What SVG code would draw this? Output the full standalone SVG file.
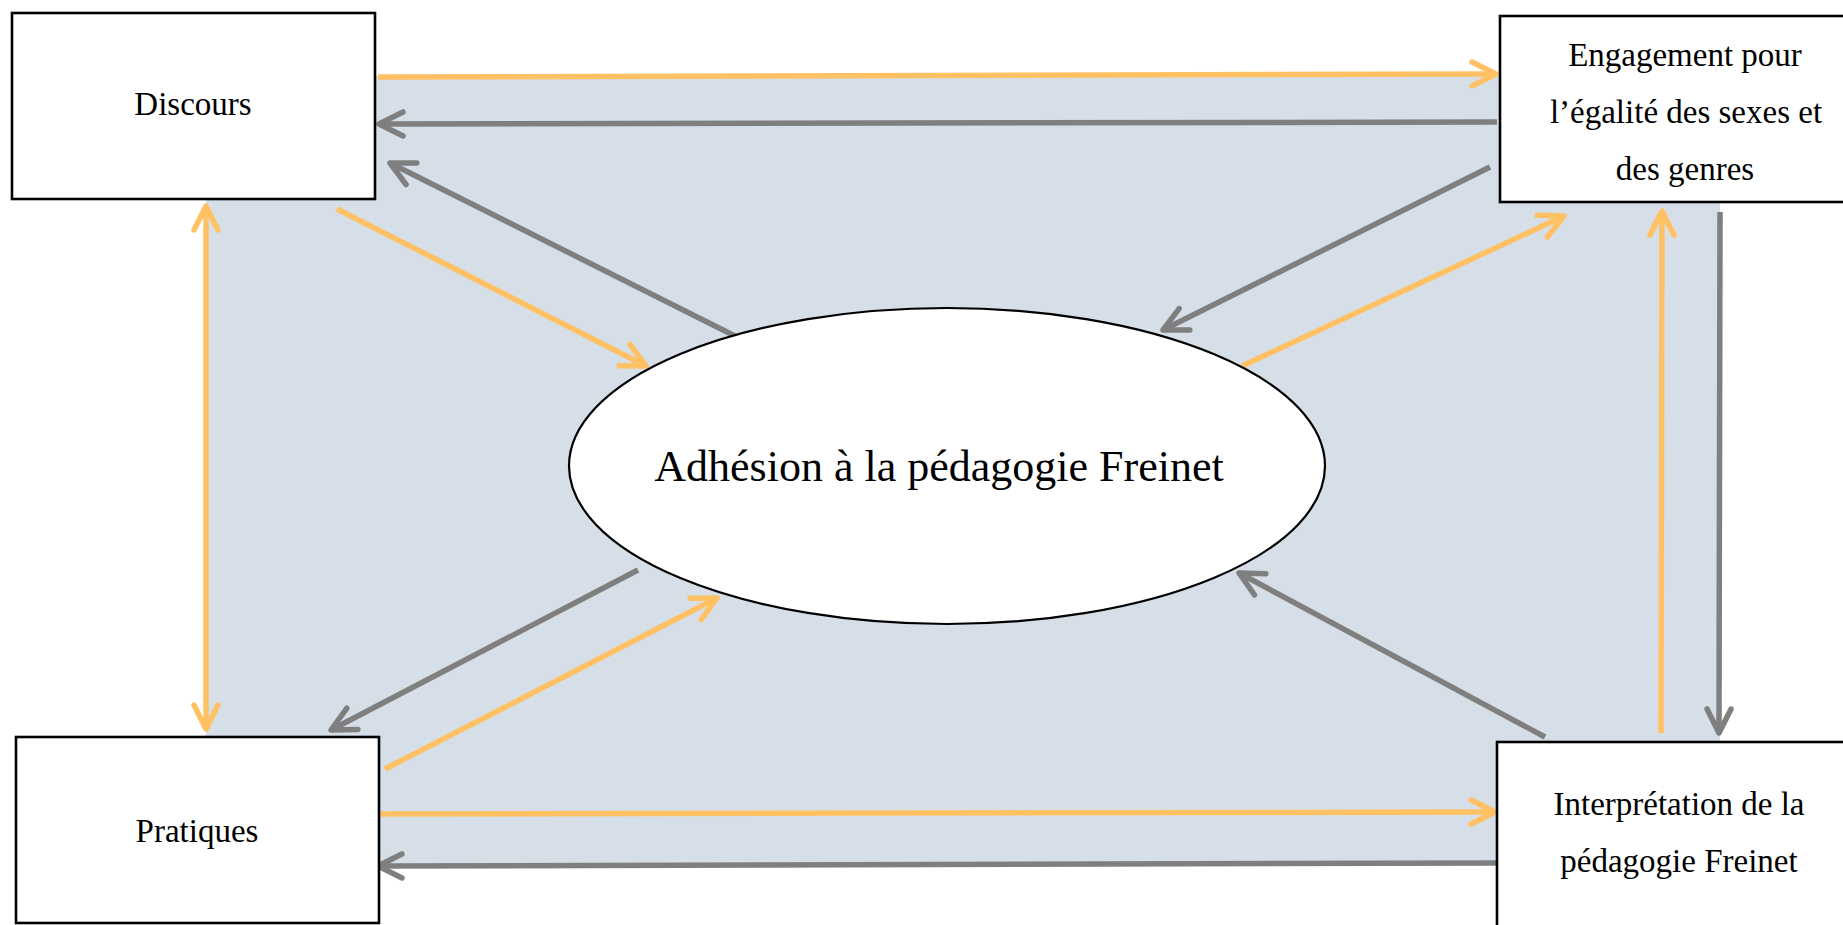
<svg xmlns="http://www.w3.org/2000/svg" width="1843" height="925" viewBox="0 0 1843 925">
<style>
.box{fill:#ffffff;stroke:#000000;stroke-width:2.6}
.lbl{font-family:"Liberation Serif","Times New Roman",serif;font-size:33px;fill:#000000;text-anchor:middle}
.big{font-size:44px}
.o{stroke:#FFC163;stroke-width:5.5;fill:none;stroke-linecap:butt}
.g{stroke:#7F7F7F;stroke-width:5.5;fill:none;stroke-linecap:butt}
.o.a{marker-end:url(#ao)}
.g.a{marker-end:url(#ag)}
</style>
<defs>
<marker id="ao" markerUnits="userSpaceOnUse" markerWidth="40" markerHeight="40" viewBox="-30 -20 34 40" refX="0" refY="0" orient="auto-start-reverse" overflow="visible">
<path d="M-24,-12 L0,0 L-24,12" fill="none" stroke="#FFC163" stroke-width="5.5" stroke-linecap="round" stroke-linejoin="round"/>
</marker>
<marker id="ag" markerUnits="userSpaceOnUse" markerWidth="40" markerHeight="40" viewBox="-30 -20 34 40" refX="0" refY="0" orient="auto-start-reverse" overflow="visible">
<path d="M-24,-12 L0,0 L-24,12" fill="none" stroke="#7F7F7F" stroke-width="5.5" stroke-linecap="round" stroke-linejoin="round"/>
</marker>
</defs>
<rect width="1843" height="925" fill="#ffffff"/>
<rect id="background" x="206" y="76" width="1514" height="789" fill="#D6DEE8"/>
<g id="connectors">
<line class="o a" x1="378" y1="77" x2="1496" y2="74"/>
<line class="g a" x1="1497" y1="122" x2="379" y2="124"/>
<line class="g a" x1="737" y1="337" x2="390" y2="163"/>
<line class="o a" x1="337" y1="209" x2="646" y2="366"/>
<line class="o" x1="206" y1="206" x2="206" y2="729" marker-start="url(#ao)" marker-end="url(#ao)"/>
<line class="g a" x1="638" y1="570" x2="331" y2="730"/>
<line class="o a" x1="385" y1="769" x2="717" y2="598"/>
<line class="o a" x1="376" y1="814" x2="1495" y2="812"/>
<line class="g a" x1="1497" y1="863" x2="378" y2="866"/>
<line class="g a" x1="1545" y1="737" x2="1239" y2="573"/>
<line class="o a" x1="1661" y1="733" x2="1662" y2="211"/>
<line class="g a" x1="1720" y1="212" x2="1719" y2="733"/>
<line class="g a" x1="1490" y1="167" x2="1163" y2="330"/>
<line class="o a" x1="1242" y1="366" x2="1564" y2="216"/>
</g>
<g id="node-discours">
<rect class="box" x="12" y="13" width="363" height="186"/>
<text class="lbl" x="193" y="115">Discours</text>
</g>
<g id="node-engagement">
<rect class="box" x="1500" y="16" width="360" height="186"/>
<text class="lbl" x="1685" y="66">Engagement pour</text>
<text class="lbl" x="1686" y="123">l’égalité des sexes et</text>
<text class="lbl" x="1685" y="180">des genres</text>
</g>
<g id="node-pratiques">
<rect class="box" x="16" y="737" width="363" height="186"/>
<text class="lbl" x="197" y="842">Pratiques</text>
</g>
<g id="node-interpretation">
<rect class="box" x="1497" y="742" width="360" height="200"/>
<text class="lbl" x="1679" y="815">Interprétation de la</text>
<text class="lbl" x="1679" y="872">pédagogie Freinet</text>
</g>
<g id="node-adhesion">
<ellipse cx="947" cy="466" rx="378" ry="158" fill="#ffffff" stroke="#000000" stroke-width="2.2"/>
<text class="lbl big" x="939" y="481">Adhésion à la pédagogie Freinet</text>
</g>
</svg>
